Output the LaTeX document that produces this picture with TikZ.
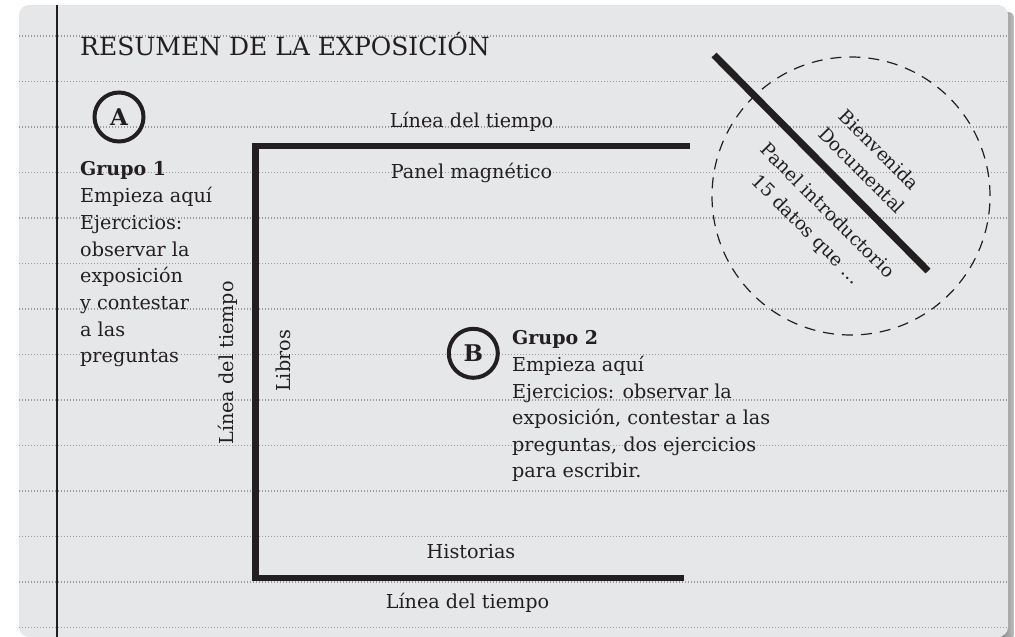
\documentclass[tikz,border=0pt]{standalone}
\usepackage{fontspec}
\setmainfont{DejaVu Serif}
\usetikzlibrary{calc}
\definecolor{ink}{HTML}{231F20}
\definecolor{paper}{HTML}{E6E7E9}
\definecolor{dotgray}{HTML}{9A9A9C}
\begin{document}
\begin{tikzpicture}[x=1pt,y=-1pt,
  body/.style={font=\fontsize{19.2}{22}\selectfont, inner sep=0pt, text=ink, anchor=base west},
  bodyc/.style={font=\fontsize{19.2}{22}\selectfont, inner sep=0pt, text=ink, anchor=base},
  bold/.style={font=\fontsize{19}{22}\selectfont\bfseries, inner sep=0pt, text=ink, anchor=base west},
  title/.style={font=\fontsize{25}{28}\selectfont, inner sep=0pt, text=ink, anchor=base west},
  badge/.style={circle, draw=ink, line width=4pt, minimum size=49pt, inner sep=0pt, text=ink, font=\fontsize{23}{26}\selectfont\bfseries},
  wall/.style={draw=ink, line width=6.5pt},
  rule/.style={draw=dotgray, line width=1.2pt, dash pattern=on 1.2pt off 1.8pt},
  diag/.style={font=\fontsize{18.5}{21}\selectfont, inner sep=0pt, text=ink, rotate=-45}
]
\useasboundingbox (0,0) rectangle (1015,637);
% shadow and paper
\shade[left color=black!50, right color=black!25, rounded corners=6pt] (1000,12) rectangle (1014,640);
\fill[paper, rounded corners=10pt] (19,5) rectangle (1008,637);
% ruled dotted lines
\foreach \k in {0,...,13} {
  \draw[rule] (19,{36+45.5*\k}) -- (1008,{36+45.5*\k});
}
% margin line
\draw[ink, line width=1.3pt] (57,5) -- (57,637);
% title
\node[title] (title) at (80,55) {RESUMEN DE LA EXPOSICIÓN};
% badge A and group 1
\node[badge] (A) at (119,117) {A};
\node[bold] (g1) at (80,175) {Grupo 1};
\node[body] (g1a) at (80,202.7) {Empieza aquí};
\node[body] (g1b) at (80,229.4) {Ejercicios:};
\node[body] (g1c) at (80,256) {observar la};
\node[body] (g1d) at (80,282.7) {exposición};
\node[body] (g1e) at (80,309.4) {y contestar};
\node[body] (g1f) at (80,336) {a las};
\node[body] (g1g) at (80,362.7) {preguntas};
% walls
\coordinate (wt) at (690,146);
\coordinate (wc1) at (255.5,146);
\coordinate (wc2) at (255.5,578);
\coordinate (wb) at (684,578);
\draw[wall, line join=miter] (wt) -- (wc1) -- (wc2) -- (wb);
% wall labels
\node[bodyc] (lt1) at (471.5,127) {Línea del tiempo};
\node[bodyc] (pm) at (471.5,178) {Panel magnético};
\node[bodyc] (hist) at (471,558) {Historias};
\node[bodyc] (lt3) at (467.5,608) {Línea del tiempo};
\node[bodyc, rotate=90] (lt2) at (233,363) {Línea del tiempo};
\node[bodyc, rotate=90] (lib) at (290,361) {Libros};
% badge B and group 2
\node[badge] (B) at (473.3,353.3) {B};
\node[bold] (g2) at (512,344) {Grupo 2};
\node[body] (g2a) at (512,371.7) {Empieza aquí};
\node[body] (g2b) at (512,398) {Ejercicios: observar la};
\node[body] (g2c) at (512,424.5) {exposición, contestar a las};
\node[body] (g2d) at (512,451) {preguntas, dos ejercicios};
\node[body] (g2e) at (512,477.5) {para escribir.};
% entrance circle
\node[circle, draw=ink, line width=1.2pt, dash pattern=on 11pt off 8pt, minimum size=278pt, inner sep=0pt] (entry) at (851,196) {};
\coordinate (d1) at (714,55);
\coordinate (d2) at (928,271);
\draw[wall, line width=7pt] (d1) -- (d2);
\node[diag] (bien) at (879.6,149.8) {Bienvenida};
\node[diag] (doc) at (861.9,170.3) {Documental};
\node[diag] (pint) at (828,210) {Panel introductorio};
\node[diag] (datos) at (805.8,230.2) {15 datos que …};
\end{tikzpicture}
\end{document}
